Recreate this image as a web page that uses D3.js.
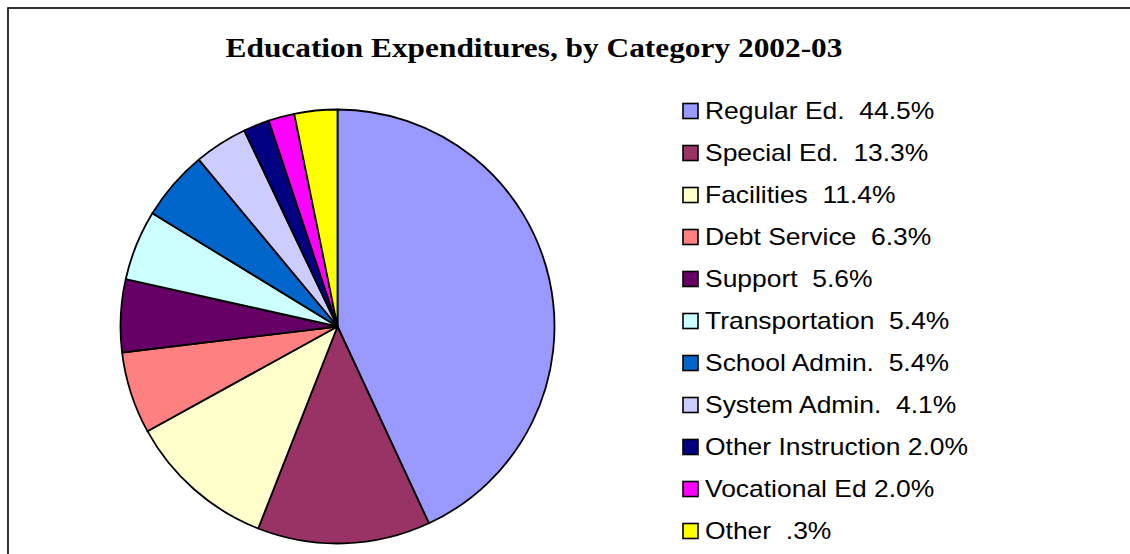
<!DOCTYPE html>
<html>
<head>
<meta charset="utf-8">
<script src="https://cdn.jsdelivr.net/npm/d3@7"></script>
<style>
  html, body { margin: 0; padding: 0; background: #fff; }
  svg { display: block; }
</style>
</head>
<body>
<svg id="chart" width="1130" height="554"></svg>
<script>
const categories = ["Regular Ed.", "Special Ed.", "Facilities", "Debt Service", "Support",
  "Transportation", "School Admin.", "System Admin.", "Other Instruction", "Vocational Ed", "Other"];
const values = [44.5, 13.3, 11.4, 6.3, 5.6, 5.4, 5.4, 4.1, 2.0, 2.0, 3.3];
const legendLabels = ["Regular Ed.  44.5%", "Special Ed.  13.3%", "Facilities  11.4%", "Debt Service  6.3%",
  "Support  5.6%", "Transportation  5.4%", "School Admin.  5.4%", "System Admin.  4.1%",
  "Other Instruction 2.0%", "Vocational Ed 2.0%", "Other  .3%"];
const colors = ["#9999FF", "#993366", "#FFFFCC", "#FF8080", "#660066", "#CCFFFF",
  "#0066CC", "#CCCCFF", "#000080", "#FF00FF", "#FFFF00"];
const titleText = "Education Expenditures, by Category 2002-03";

const svg = d3.select("#chart");

// outer frame
svg.append("rect")
  .attr("x", 8).attr("y", 8).attr("width", 1140).attr("height", 560)
  .attr("fill", "none").attr("stroke", "#000").attr("stroke-width", 1.6);

// title
svg.append("text")
  .attr("transform", "translate(534,57) scale(1.12,1)")
  .attr("text-anchor", "middle")
  .attr("font-family", "'Liberation Serif', 'Times New Roman', serif")
  .attr("font-weight", "bold")
  .attr("font-size", 28)
  .attr("fill", "#000")
  .text(titleText);

// pie
const cx = 337.5, cy = 326.5, r = 217;
const pie = d3.pie().sort(null).value(d => d)(values);
const arc = d3.arc().innerRadius(0).outerRadius(r);
const colorScale = d3.scaleOrdinal().domain(categories).range(colors);

svg.append("g")
  .attr("transform", `translate(${cx},${cy})`)
  .selectAll("path")
  .data(pie)
  .join("path")
  .attr("d", arc)
  .attr("fill", (d, i) => colorScale(categories[i]))
  .attr("stroke", "#000")
  .attr("stroke-width", 1.8)
  .attr("stroke-linejoin", "round");

// legend
const rowY = d3.scalePoint().domain(categories).range([111, 531]);
const lg = svg.append("g");
const items = lg.selectAll("g").data(categories).join("g")
  .attr("transform", d => `translate(683,${rowY(d)})`);
items.append("rect")
  .attr("x", 0).attr("y", -7.5).attr("width", 15).attr("height", 15)
  .attr("fill", d => colorScale(d))
  .attr("stroke", "#000").attr("stroke-width", 1.6);
items.append("text")
  .attr("transform", "translate(22,8) scale(1.15,1)")
  .attr("font-family", "'Liberation Sans', Arial, sans-serif")
  .attr("font-size", 23)
  .attr("fill", "#000")
  .style("white-space", "pre")
  .attr("xml:space", "preserve")
  .text((d, i) => legendLabels[i]);
</script>
</body>
</html>
